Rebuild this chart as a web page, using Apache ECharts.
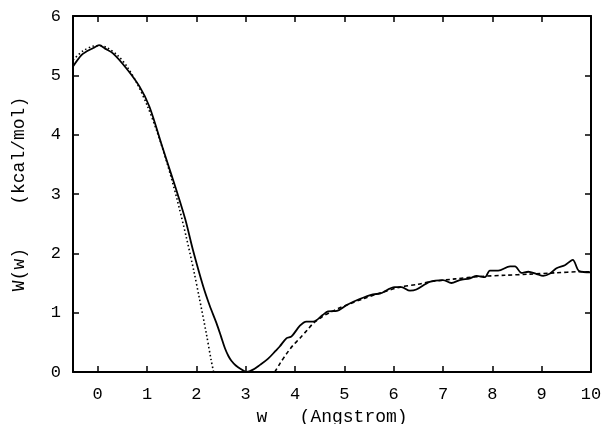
<!DOCTYPE html>
<html>
<head>
<meta charset="utf-8">
<script src="https://cdn.jsdelivr.net/npm/echarts@6/dist/echarts.min.js"></script>
<style>
html,body{margin:0;padding:0;background:#fff;}
#chart{width:603px;height:424px;}
</style>
</head>
<body>
<div id="chart"></div>
<script>
// Data
var xTicks = [0,1,2,3,4,5,6,7,8,9,10];
var yTicks = [0,1,2,3,4,5,6];

var solidX = [-0.5,-0.33,-0.23,-0.09,0.03,0.15,0.31,0.58,0.85,1.05,1.32,1.5,1.62,1.78,1.93,2.14,2.27,2.41,2.5,2.58,2.65,2.71,2.8,2.9,3.02,3.15,3.29,3.45,3.6,3.69,3.83,3.93,4.1,4.23,4.37,4.56,4.67,4.85,5.05,5.31,5.58,5.72,6.02,6.16,6.33,6.46,6.73,7.0,7.17,7.34,7.55,7.68,7.85,7.95,8.12,8.36,8.46,8.59,8.73,8.9,9.03,9.17,9.3,9.47,9.63,9.76,10.0];
var solidY = [5.15,5.34,5.4,5.46,5.51,5.45,5.37,5.12,4.81,4.47,3.77,3.31,3.0,2.56,2.06,1.44,1.12,0.82,0.6,0.4,0.27,0.19,0.11,0.05,0.0,0.04,0.12,0.22,0.35,0.43,0.57,0.6,0.78,0.85,0.85,0.96,1.02,1.03,1.13,1.23,1.31,1.32,1.43,1.43,1.37,1.39,1.52,1.55,1.5,1.55,1.58,1.62,1.6,1.71,1.71,1.78,1.78,1.67,1.69,1.65,1.62,1.66,1.75,1.8,1.89,1.7,1.68];

var dotX = [-0.5,-0.3,-0.1,0.05,0.2,0.4,0.6,0.8,1.0,1.2,1.4,1.6,1.8,1.95,2.06,2.2,2.3,2.35];
var dotY = [5.26,5.41,5.49,5.5,5.46,5.34,5.14,4.86,4.5,4.06,3.54,2.94,2.26,1.7,1.25,0.66,0.2,0.0];

var dashX = [3.59,3.7,3.83,3.95,4.1,4.25,4.37,4.55,4.7,4.9,5.05,5.4,5.72,6.13,6.5,6.73,7.25,7.75,8.25,8.76,9.25,9.78,10.0];
var dashY = [0,0.15,0.31,0.44,0.57,0.71,0.82,0.93,1.0,1.08,1.13,1.24,1.33,1.43,1.48,1.52,1.57,1.61,1.63,1.65,1.67,1.69,1.69];

function pairs(xs, ys){ return xs.map(function(x,i){ return [x, ys[i]]; }); }

var mono = '"Liberation Mono", "DejaVu Sans Mono", monospace';
var black = '#000';

var chart = echarts.init(document.getElementById('chart'), null, {renderer:'canvas'});
chart.setOption({
  animation:false,
  backgroundColor:'#fff',
  grid:{left:73, right:12, top:16, bottom:52, containLabel:false, outerBoundsMode:'none'},
  xAxis:[{
    type:'value', min:-0.5, max:10, position:'bottom',
    name:'w   (Angstrom)', nameLocation:'middle', nameGap:35,
    nameTextStyle:{fontFamily:mono, fontSize:18, color:black},
    axisLine:{show:true, onZero:false, lineStyle:{color:black, width:2}},
    axisTick:{show:true, inside:true, length:6, customValues:xTicks, lineStyle:{color:black, width:1.5}},
    axisLabel:{show:true, customValues:xTicks, margin:14, fontFamily:mono, fontSize:17, color:black},
    splitLine:{show:false}
  },{
    type:'value', min:-0.5, max:10, position:'top',
    axisLine:{show:true, onZero:false, lineStyle:{color:black, width:2}},
    axisTick:{show:true, inside:true, length:6, customValues:xTicks, lineStyle:{color:black, width:1.5}},
    axisLabel:{show:false},
    splitLine:{show:false}
  }],
  yAxis:[{
    type:'value', min:0, max:6, interval:1, position:'left',
    name:'W(w)    (kcal/mol)', nameLocation:'middle', nameGap:45, nameRotate:90,
    nameTextStyle:{fontFamily:mono, fontSize:18, color:black},
    axisLine:{show:true, onZero:false, lineStyle:{color:black, width:2}},
    axisTick:{show:true, inside:true, length:6, lineStyle:{color:black, width:1.5}},
    axisLabel:{show:true, margin:12, fontFamily:mono, fontSize:17, color:black},
    splitLine:{show:false}
  },{
    type:'value', min:0, max:6, interval:1, position:'right',
    axisLine:{show:true, onZero:false, lineStyle:{color:black, width:2}},
    axisTick:{show:true, inside:true, length:6, lineStyle:{color:black, width:1.5}},
    axisLabel:{show:false},
    splitLine:{show:false}
  }],
  series:[{
    type:'line', data:pairs(solidX, solidY), xAxisIndex:0, yAxisIndex:0,
    showSymbol:false, smooth:0.3, lineStyle:{color:black, width:1.8}
  },{
    type:'line', data:pairs(dotX, dotY), xAxisIndex:0, yAxisIndex:0,
    showSymbol:false, smooth:0.3, lineStyle:{color:black, width:1.6, type:[1.5,2.5]}
  },{
    type:'line', data:pairs(dashX, dashY), xAxisIndex:0, yAxisIndex:0,
    showSymbol:false, smooth:0.3, lineStyle:{color:black, width:1.6, type:[4,3]}
  }]
});
</script>
</body>
</html>
